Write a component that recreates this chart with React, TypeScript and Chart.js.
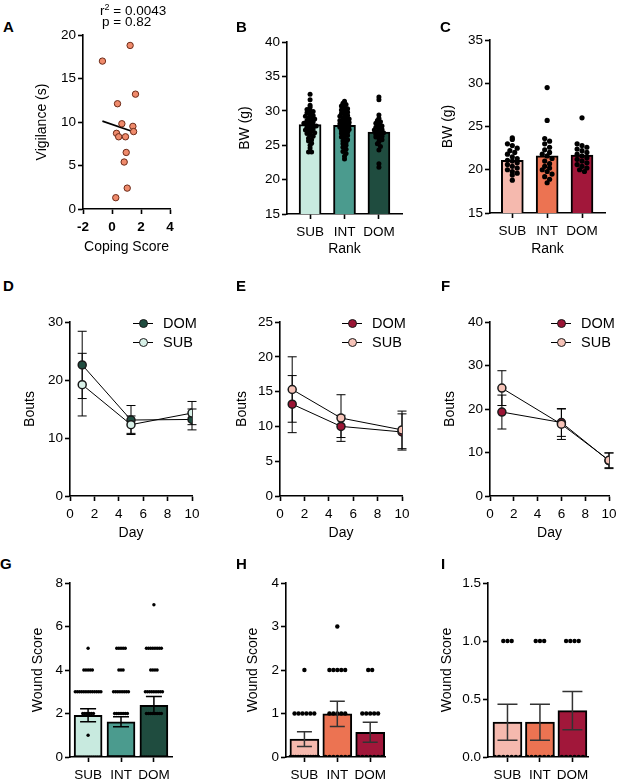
import React, { useEffect, useRef } from "react";
import { Chart, registerables } from "chart.js";

Chart.register(...registerables);

const FONT = "'Liberation Sans', Arial, Helvetica, sans-serif";
Chart.defaults.font.family = FONT;
Chart.defaults.color = "#000";

// ---------- data ----------
const ranks = ["SUB", "INT", "DOM"];
const greens = ["#c8eadf", "#4b9b8e", "#1f4c3f"];
const reds = ["#f5b9ae", "#ec7352", "#a1173a"];

// A: vigilance vs coping score
const copingScore = [-0.66, 1.25, 1.62, 0.38, 0.68, 1.44, 1.49, 0.31, 0.46, 0.93, 0.98, 0.84, 1.05, 0.26];
const vigilance = [17.0, 18.8, 13.2, 12.1, 9.8, 9.5, 8.9, 8.7, 8.3, 8.3, 6.5, 5.4, 2.4, 1.3];
const fitX = [-0.66, 1.62];
const fitY = [10.1, 8.8];

// B: body weight (males)
const bwMaleMean = [28.0, 27.9, 26.9];
const bwMaleSub = [32.4, 31.6, 30.8, 30.5, 30.2, 30.0, 29.9, 29.7, 29.5, 29.3, 29.2, 29.0, 28.9, 28.8, 28.6, 28.5, 28.4, 28.2, 28.1, 28.0, 27.9, 27.8, 27.6, 27.5, 27.4, 27.2, 27.1, 27.0, 26.8, 26.7, 26.5, 26.3, 26.0, 25.8, 25.6, 25.3, 25.0, 24.6, 24.0, 24.0];
const bwMaleInt = [31.4, 31.1, 30.9, 30.7, 30.5, 30.3, 30.1, 30.0, 29.8, 29.6, 29.5, 29.3, 29.2, 29.0, 28.9, 28.8, 28.6, 28.5, 28.4, 28.3, 28.1, 28.0, 27.9, 27.8, 27.6, 27.5, 27.4, 27.3, 27.1, 27.0, 26.9, 26.7, 26.6, 26.4, 26.2, 26.0, 25.8, 25.6, 25.4, 25.2, 25.0, 24.7, 24.4, 24.1, 23.8, 23.4, 23.0];
const bwMaleDom = [32.0, 31.6, 29.4, 28.9, 28.6, 28.4, 28.2, 28.0, 27.8, 27.6, 27.5, 27.3, 27.2, 27.0, 26.9, 26.8, 26.6, 26.5, 26.3, 26.2, 26.0, 25.8, 25.5, 25.2, 24.8, 24.3, 22.3, 21.8];

// C: body weight (females)
const bwFemaleMean = [21.1, 21.6, 21.7];
const bwFemaleSub = [23.7, 23.5, 23.0, 22.8, 22.5, 22.2, 22.0, 21.8, 21.5, 21.3, 21.1, 21.0, 20.8, 20.6, 20.4, 20.2, 20.0, 19.8, 19.6, 19.4, 18.8];
const bwFemaleInt = [29.5, 25.7, 23.6, 23.3, 23.0, 22.6, 22.3, 22.0, 21.8, 21.6, 21.3, 21.0, 20.7, 20.4, 20.2, 20.0, 19.8, 19.5, 19.2, 18.9, 18.5];
const bwFemaleDom = [26.0, 23.0, 22.8, 22.6, 22.4, 22.2, 22.0, 21.8, 21.6, 21.4, 21.2, 21.0, 20.8, 20.6, 20.4, 20.2, 20.0, 19.8];

// D-F: bouts per day (mean, SEM)
const daysD = [1, 5, 10];
const domD = [22.6, 13.1, 13.2];
const domErrD = [5.8, 2.5, 1.8];
const subD = [19.2, 12.3, 14.3];
const subErrD = [5.4, 1.5, 2.0];

const daysE = [1, 5, 10];
const domE = [13.2, 10.0, 9.2];
const domErrE = [4.1, 1.6, 2.6];
const subE = [15.3, 11.2, 9.5];
const subErrE = [4.7, 3.35, 2.7];

const daysF = [1, 6, 10];
const domF = [19.3, 16.9, 8.1];
const domErrF = [3.9, 3.2, 1.8];
const subF = [24.8, 16.5, 8.2];
const subErrF = [4.0, 3.5, 1.7];

// G-I: wound scores, number of animals at score 0,1,2,...
const woundCountsG = [[14, 1, 6, 13, 5, 1, 0, 0], [23, 0, 7, 8, 3, 5, 0, 0], [14, 0, 8, 9, 4, 8, 0, 1]];
const woundMeanG = [1.92, 1.62, 2.38];
const woundErrG = [0.3, 0.23, 0.4];
const woundCountsH = [[12, 6, 1, 0], [7, 5, 5, 1], [7, 5, 2, 0]];
const woundMeanH = [0.41, 0.99, 0.57];
const woundErrH = [0.17, 0.29, 0.23];
const woundCountsI = [[7, 3], [7, 3], [6, 4]];
const woundMeanI = [0.3, 0.3, 0.4];
const woundErrI = [0.155, 0.155, 0.165];

// ---------- helpers ----------
type Pt = { x: number; y: number };

const expand = (counts: number[]) => counts.flatMap((n, score) => Array(n).fill(score));

// simple beeswarm: spread points that share a value bin around the group index
function swarm(groups: number[][], bin: number, step: number, half: number): Pt[] {
  const pts: Pt[] = [];
  groups.forEach((vals, g) => {
    const bins = new Map<number, number[]>();
    vals.forEach((v) => {
      const k = Math.round(v / bin);
      if (!bins.has(k)) bins.set(k, []);
      bins.get(k)!.push(v);
    });
    bins.forEach((list) => {
      const n = list.length;
      const gap = n > 1 ? Math.min(step, (2 * half) / (n - 1)) : 0;
      list.forEach((v, i) => pts.push({ x: g + (i - (n - 1) / 2) * gap, y: v }));
    });
  });
  return pts;
}

type ErrSet = { xs: number[]; ys: number[]; errs: number[] };
function errorBars(sets: ErrSet[], cap: number, color: string, width: number, front: boolean) {
  const draw = (chart: any) => {
    const { ctx, scales } = chart;
    ctx.save();
    ctx.strokeStyle = color;
    ctx.lineWidth = width;
    ctx.beginPath();
    sets.forEach((s) =>
      s.xs.forEach((xv, i) => {
        const px = scales.x.getPixelForValue(xv);
        const top = scales.y.getPixelForValue(s.ys[i] + s.errs[i]);
        const bot = scales.y.getPixelForValue(s.ys[i] - s.errs[i]);
        ctx.moveTo(px, top);
        ctx.lineTo(px, bot);
        ctx.moveTo(px - cap / 2, top);
        ctx.lineTo(px + cap / 2, top);
        ctx.moveTo(px - cap / 2, bot);
        ctx.lineTo(px + cap / 2, bot);
      })
    );
    ctx.stroke();
    ctx.restore();
  };
  return front ? { id: "errorBars", afterDatasetsDraw: draw } : { id: "errorBars", beforeDatasetsDraw: draw };
}

const tickFont = { family: FONT, size: 13.5 };
const titleFont = { family: FONT, size: 14 };
const axisBorder = { display: true, color: "#000", width: 1.6 };
const axisGrid = { drawOnChartArea: false, drawTicks: true, tickLength: 5, tickWidth: 1.6, tickColor: "#000", offset: false };

function yAxis(min: number, max: number, step: number, title: string, width: number, digits = 0) {
  return {
    type: "linear",
    min,
    max,
    ticks: { stepSize: step, font: tickFont, color: "#000", padding: 2, callback: (v: any) => Number(v).toFixed(digits) },
    border: axisBorder,
    grid: axisGrid,
    title: { display: true, text: title, font: titleFont, color: "#000", padding: 0 },
    afterFit: (s: any) => {
      s.width = width;
      s.paddingTop = 0;
      s.paddingBottom = 0;
    },
  };
}

function xAxis(min: number, max: number, tickVals: number[], label: (v: number) => string, title: string | null, height: number, bold = false) {
  return {
    type: "linear",
    min,
    max,
    offset: false,
    afterBuildTicks: (s: any) => {
      s.ticks = tickVals.map((value) => ({ value }));
    },
    ticks: { font: { ...tickFont, weight: bold ? "bold" : "normal" }, color: "#000", padding: 5, maxRotation: 0, autoSkip: false, callback: (v: any) => label(Number(v)) },
    border: axisBorder,
    grid: axisGrid,
    title: { display: !!title, text: title ?? "", font: titleFont, color: "#000", padding: 0 },
    afterFit: (s: any) => {
      s.height = height;
      s.paddingLeft = 0;
      s.paddingRight = 0;
    },
  };
}

const rankLabel = (v: number) => ranks[v] ?? "";

function barPanel(o: any) {
  return {
    type: "bar",
    data: {
      datasets: [
        { type: "scatter", data: o.dots, pointRadius: o.dotR, pointBackgroundColor: "#000", pointBorderWidth: 0, order: 0 },
        {
          type: "bar",
          data: o.means.map((y: number, i: number) => ({ x: i, y })),
          backgroundColor: o.colors,
          borderColor: "#000",
          borderWidth: 2,
          barThickness: o.barW,
          order: 1,
        },
      ],
    },
    options: {
      scales: {
        x: xAxis(o.xMin, o.xMax, [0, 1, 2], rankLabel, o.xTitle, o.xh),
        y: yAxis(o.yMin, o.yMax, o.yStep, o.yTitle, o.yw, o.digits ?? 0),
      },
    },
    plugins: o.errs ? [errorBars([{ xs: [0, 1, 2], ys: o.means, errs: o.errs }], o.cap, o.errColor, 1.5, true)] : [],
  };
}

function linePanel(o: any) {
  const ds = (ys: number[], fill: string) => ({
    data: o.xs.map((x: number, i: number) => ({ x, y: ys[i] })),
    showLine: true,
    borderColor: "#000",
    borderWidth: 1,
    pointRadius: 4,
    pointBackgroundColor: fill,
    pointBorderColor: "#1a1a1a",
    pointBorderWidth: 1.5,
  });
  return {
    type: "scatter",
    data: { datasets: [ds(o.sub, o.subFill), ds(o.dom, o.domFill)] },
    options: {
      scales: {
        x: xAxis(0, 10, [0, 2, 4, 6, 8, 10], (v) => String(v), "Day", o.xh),
        y: yAxis(0, o.yMax, o.yStep, "Bouts", o.yw),
      },
    },
    plugins: [
      errorBars(
        [
          { xs: o.xs, ys: o.dom, errs: o.domErr },
          { xs: o.xs, ys: o.sub, errs: o.subErr },
        ],
        9,
        "#000",
        1,
        false
      ),
    ],
  };
}

// ---------- panels ----------
const configA = () => ({
  type: "scatter",
  data: {
    datasets: [
      {
        data: copingScore.map((x, i) => ({ x, y: vigilance[i] })),
        pointRadius: 3.2,
        pointBackgroundColor: "#ef8a6b",
        pointBorderColor: "#6b2a18",
        pointBorderWidth: 1,
      },
      {
        data: fitX.map((x, i) => ({ x, y: fitY[i] })),
        showLine: true,
        borderColor: "#000",
        borderWidth: 1.6,
        pointRadius: 0,
      },
    ],
  },
  options: {
    scales: {
      x: xAxis(-2, 4, [-2, 0, 2, 4], (v) => String(v), "Coping Score", 47, true),
      y: yAxis(0, 20, 5, "Vigilance (s)", 49),
    },
  },
});

const configB = () =>
  barPanel({
    means: bwMaleMean, colors: greens, dots: swarm([bwMaleSub, bwMaleInt, bwMaleDom], 0.5, 0.09, 0.3), dotR: 2.5,
    xMin: -0.67, xMax: 2.67, yMin: 15, yMax: 40, yStep: 5, yTitle: "BW (g)", xTitle: "Rank", yw: 50, xh: 44, barW: 22,
  });

const configC = () =>
  barPanel({
    means: bwFemaleMean, colors: reds, dots: swarm([bwFemaleSub, bwFemaleInt, bwFemaleDom], 0.6, 0.14, 0.33), dotR: 2.6,
    xMin: -0.64, xMax: 2.66, yMin: 15, yMax: 35, yStep: 5, yTitle: "BW (g)", xTitle: "Rank", yw: 50, xh: 45, barW: 22,
  });

const configD = () =>
  linePanel({ xs: daysD, dom: domD, domErr: domErrD, sub: subD, subErr: subErrD, domFill: greens[2], subFill: "#d8f1e8", yMax: 30, yStep: 10, yw: 48, xh: 46 });
const configE = () =>
  linePanel({ xs: daysE, dom: domE, domErr: domErrE, sub: subE, subErr: subErrE, domFill: "#9b1535", subFill: "#f6c3b8", yMax: 25, yStep: 5, yw: 46, xh: 46 });
const configF = () =>
  linePanel({ xs: daysF, dom: domF, domErr: domErrF, sub: subF, subErr: subErrF, domFill: "#9b1535", subFill: "#f6c3b8", yMax: 40, yStep: 10, yw: 48, xh: 46 });

const configG = () =>
  barPanel({
    means: woundMeanG, colors: greens, dots: swarm(woundCountsG.map(expand), 1, 0.065, 0.4), dotR: 1.7,
    xMin: -0.55, xMax: 2.55, yMin: 0, yMax: 8, yStep: 2, yTitle: "Wound Score", xTitle: null, yw: 40, xh: 23, barW: 28,
    errs: woundErrG, cap: 16, errColor: "#000",
  });
const configH = () =>
  barPanel({
    means: woundMeanH, colors: reds, dots: swarm(woundCountsH.map(expand), 1, 0.12, 0.42), dotR: 2.2,
    xMin: -0.56, xMax: 2.45, yMin: 0, yMax: 4, yStep: 1, yTitle: "Wound Score", xTitle: null, yw: 41, xh: 23, barW: 29,
    errs: woundErrH, cap: 15, errColor: "#333",
  });
const configI = () =>
  barPanel({
    means: woundMeanI, colors: reds, dots: swarm(woundCountsI.map(expand), 1, 0.13, 0.42), dotR: 2.2,
    xMin: -0.6, xMax: 2.48, yMin: 0, yMax: 1.5, yStep: 0.5, digits: 1, yTitle: "Wound Score", xTitle: null, yw: 49, xh: 23, barW: 29,
    errs: woundErrI, cap: 20, errColor: "#333",
  });

type Spec = { left: number; top: number; width: number; height: number; padTop: number; padRight: number; config: () => any };

const panels: Spec[] = [
  { left: 34, top: 0, width: 146, height: 256, padTop: 35, padRight: 10, config: configA },
  { left: 237, top: 0, width: 175, height: 258, padTop: 42, padRight: 10, config: configB },
  { left: 440, top: 0, width: 175, height: 258, padTop: 40, padRight: 10, config: configC },
  { left: 22, top: 290, width: 178, height: 252, padTop: 32, padRight: 8, config: configD },
  { left: 234, top: 290, width: 176, height: 252, padTop: 32, padRight: 8, config: configE },
  { left: 442, top: 290, width: 175, height: 252, padTop: 32, padRight: 8, config: configF },
  { left: 30, top: 560, width: 150, height: 220, padTop: 23, padRight: 8, config: configG },
  { left: 245, top: 560, width: 150, height: 220, padTop: 23, padRight: 10, config: configH },
  { left: 439, top: 560, width: 159, height: 220, padTop: 23, padRight: 10, config: configI },
];

const letters = [
  { t: "A", x: 3, y: 19 },
  { t: "B", x: 236, y: 19 },
  { t: "C", x: 440, y: 19 },
  { t: "D", x: 3, y: 278 },
  { t: "E", x: 236, y: 278 },
  { t: "F", x: 441, y: 278 },
  { t: "G", x: 0, y: 556 },
  { t: "H", x: 236, y: 556 },
  { t: "I", x: 441, y: 556 },
];

const legends = [
  { cx: 143, fills: [greens[2], "#d8f1e8"] },
  { cx: 352, fills: ["#9b1535", "#f6c3b8"] },
  { cx: 561, fills: ["#9b1535", "#f6c3b8"] },
];
const legendLabels = ["DOM", "SUB"];
const legendRows = [323, 342];

function ChartPanel({ spec }: { spec: Spec }) {
  const ref = useRef<HTMLCanvasElement>(null);
  useEffect(() => {
    const ctx = ref.current?.getContext("2d");
    if (!ctx) return;
    const cfg = spec.config();
    cfg.options = {
      ...cfg.options,
      responsive: true,
      maintainAspectRatio: false,
      animation: false,
      layout: { padding: { top: spec.padTop, right: spec.padRight, left: 0, bottom: 0 } },
      plugins: { legend: { display: false }, tooltip: { enabled: false } },
    };
    const chart = new Chart(ctx, cfg);
    return () => chart.destroy();
  }, []);
  return (
    <div style={{ position: "absolute", left: spec.left, top: spec.top, width: spec.width, height: spec.height }}>
      <canvas ref={ref} />
    </div>
  );
}

export default function App() {
  return (
    <div style={{ position: "absolute", left: 0, top: 0, width: 617, height: 780, background: "#fff", fontFamily: FONT, overflow: "hidden" }}>
      {panels.map((p, i) => (
        <ChartPanel key={i} spec={p} />
      ))}
      {letters.map((l) => (
        <div key={l.t} style={{ position: "absolute", left: l.x, top: l.y, fontSize: 15, lineHeight: "15px", fontWeight: "bold" }}>
          {l.t}
        </div>
      ))}
      <div style={{ position: "absolute", left: 100, top: 1, fontSize: 13.5, lineHeight: "13px", whiteSpace: "nowrap" }}>
        r<sup style={{ fontSize: 9, verticalAlign: "5px" }}>2</sup> = 0.0043
      </div>
      <div style={{ position: "absolute", left: 102, top: 15, fontSize: 13.5, lineHeight: "13px", whiteSpace: "nowrap" }}>p = 0.82</div>
      {legends.map((lg, k) =>
        legendLabels.map((lab, j) => (
          <React.Fragment key={k + lab}>
            <div style={{ position: "absolute", left: lg.cx - 10, top: legendRows[j] - 0.5, width: 20, height: 1.2, background: "#000" }} />
            <div
              style={{
                position: "absolute", left: lg.cx - 4.5, top: legendRows[j] - 4.5, width: 9, height: 9, boxSizing: "border-box",
                borderRadius: "50%", border: "1.5px solid #1a1a1a", background: lg.fills[j],
              }}
            />
            <div style={{ position: "absolute", left: lg.cx + 20, top: legendRows[j] - 8, fontSize: 14.5, lineHeight: "16px" }}>{lab}</div>
          </React.Fragment>
        ))
      )}
    </div>
  );
}
